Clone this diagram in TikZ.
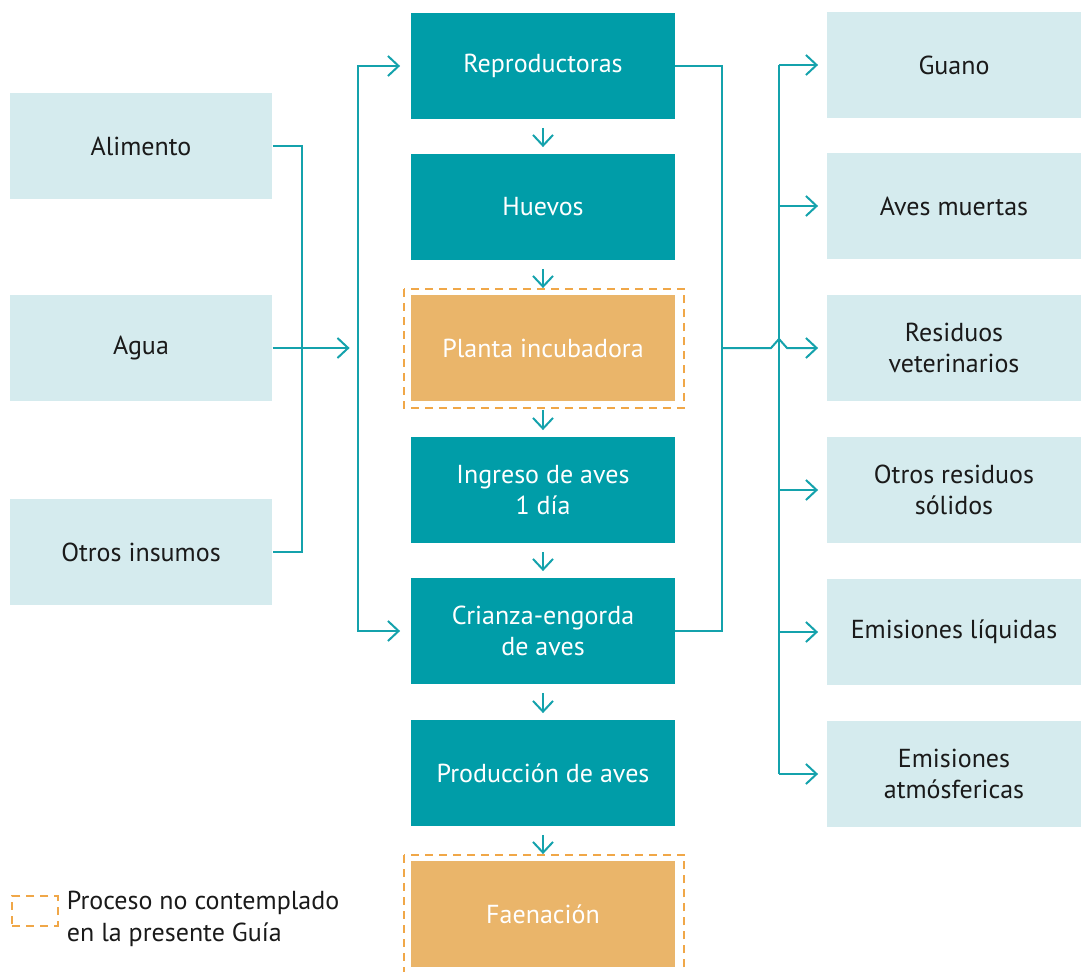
\documentclass[tikz,border=0pt]{standalone}
\usepackage{fontspec}
\setmainfont{PT Sans}
\usetikzlibrary{arrows.meta, positioning}
\definecolor{procteal}{HTML}{009DA8}
\definecolor{wireteal}{HTML}{14A2AC}
\definecolor{lightbox}{HTML}{D5EBEE}
\definecolor{extorange}{HTML}{EAB56A}
\definecolor{dashorange}{HTML}{F0A748}
\definecolor{inktext}{HTML}{1A1A1A}

\tikzset{
  proc/.style={fill=procteal, text=white, minimum width=198pt, minimum height=79pt, inner sep=0pt, align=center},
  extproc/.style={proc, fill=extorange},
  inbox/.style={fill=lightbox, text=inktext, minimum width=197pt, minimum height=79pt, inner sep=0pt, align=center},
  outbox/.style={inbox, minimum width=190pt},
  wire/.style={draw=wireteal, line width=1.5pt},
  flow/.style={wire, -{Straight Barb[length=8pt, width=15pt, line width=1.5pt]}},
  dashbox/.style={draw=dashorange, line width=1.5pt, dash pattern=on 6pt off 4.5pt}
}

\begin{document}
\begin{tikzpicture}[x=0.75pt, y=-0.75pt, font=\fontsize{19.5}{23.5}\selectfont]
  \useasboundingbox (0,0) rectangle (1081,971);

  % Inputs
  \node[inbox] (ali) at (141,146) {Alimento};
  \node[inbox] (agu) at (141,348) {Agua};
  \node[inbox] (otr) at (141,552) {Otros insumos};

  % Process chain
  \node[proc] (rep) at (543,66) {Reproductoras};
  \node[proc] (hue) at (543,207) {Huevos};
  \node[extproc] (pla) at (543,348) {Planta incubadora};
  \node[proc] (ing) at (543,490) {Ingreso de aves\\1 día};
  \node[proc] (cri) at (543,631) {Crianza-engorda\\de aves};
  \node[proc] (pro) at (543,773) {Producción de aves};
  \node[extproc] (fae) at (543,914) {Faenación};

  % Not covered
  \draw[dashbox] ([shift={(-7,-6)}]pla.north west) rectangle ([shift={(9,7)}]pla.south east);
  \draw[dashbox] ([shift={(-7,-6)}]fae.north west) rectangle ([shift={(9,7)}]fae.south east);

  % Outputs
  \node[outbox] (gua) at (954,65) {Guano};
  \node[outbox] (ave) at (954,206) {Aves muertas};
  \node[outbox] (res) at (954,348) {Residuos\\veterinarios};
  \node[outbox] (ors) at (954,490) {Otros residuos\\sólidos};
  \node[outbox] (liq) at (954,632) {Emisiones líquidas};
  \node[outbox] (atm) at (954,774) {Emisiones\\atmósfericas};

  % Chain arrows
  \foreach \a/\b in {rep/hue, hue/pla, pla/ing, ing/cri, cri/pro, pro/fae}
    \draw[flow] ([shift={(0,9)}]\a.south) -- ([shift={(0,-7)}]\b.north);

  % Input wires
  \draw[wire] (ali.east) -- ++(29,0) |- (otr.east);
  \coordinate (inbus) at ([shift={(85,0)}]agu.east);
  \draw[flow] (agu.east) -- ([shift={(-8,0)}]inbus);
  \draw[flow, shorten >=8pt] (inbus) |- (rep.west);
  \draw[flow, shorten >=8pt] (inbus) |- (cri.west);

  % Output wires
  \draw[wire] (rep.east) -- ++(47,0) coordinate (ob) |- (cri.east);
  \coordinate (vb) at (779,348);
  \draw[wire] (vb |- gua.west) -- (vb |- atm.west);
  \foreach \n in {gua, ave, ors, liq, atm}
    \draw[flow] (vb |- \n.west) -- ([shift={(-9,0)}]\n.west);
  \draw[flow] (ob |- pla.east) -- ([shift={(-8,0)}]vb) -- ([shift={(0,-9)}]vb)
    -- ([shift={(8,0)}]vb) -- ([shift={(-9,0)}]res.west);

  % Legend
  \node[dashbox, minimum width=34pt, minimum height=22pt, inner sep=0pt] (leg) at (35,911) {};
  \node[right=6pt of leg.east, yshift=-6pt, align=left, text=inktext, inner sep=0pt] (legtxt) {Proceso no contemplado\\en la presente Guía};
\end{tikzpicture}
\end{document}
